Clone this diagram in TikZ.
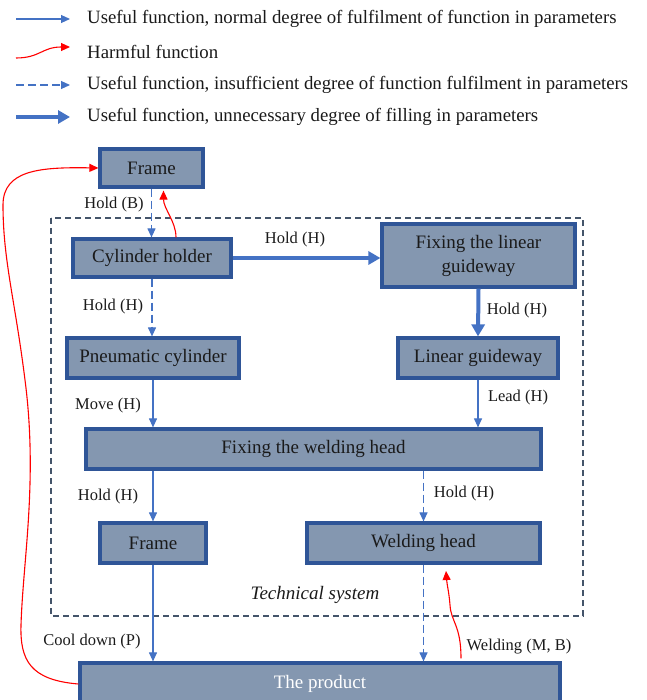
\documentclass[tikz,border=0pt]{standalone}
\usepackage{fontspec}
\setmainfont{Liberation Serif}
\usetikzlibrary{arrows.meta,calc}
\definecolor{boxfill}{HTML}{8497B0}
\definecolor{boxdraw}{HTML}{2F5597}
\definecolor{arr}{HTML}{4472C4}
\definecolor{tsline}{HTML}{44546A}
\definecolor{txt}{HTML}{1A1A1A}
\begin{document}
\begin{tikzpicture}[x=1pt,y=-1pt,
  fbox/.style={draw=boxdraw,fill=boxfill,line width=3.2pt,inner sep=0pt,text=txt,
    font=\fontsize{19}{24}\selectfont,align=center},
  lbl/.style={font=\fontsize{16.5}{18}\selectfont,text=txt,inner sep=1pt},
  legtxt/.style={font=\fontsize{18.8}{20}\selectfont,text=txt,anchor=west,inner sep=0pt},
  thinarr/.style={draw=arr,line width=1.1pt,-{Triangle[width=8pt,length=9pt]}},
  dasharr/.style={thinarr,dash pattern=on 8pt off 4pt},
  thickarr/.style={draw=arr,line width=4pt,-{Triangle[width=13pt,length=12pt]}},
  harm/.style={draw=red,line width=1.1pt,-{Triangle[width=8pt,length=9pt]}}]
\useasboundingbox (0,0) rectangle (646,700);
% legend
\coordinate (l1a) at (16,19); \coordinate (l1b) at (70,19);
\coordinate (l2a) at (16,58); \coordinate (l2b) at (70,47);
\coordinate (l3a) at (16,85); \coordinate (l3b) at (70,85);
\coordinate (l4a) at (16,117); \coordinate (l4b) at (70,117);
\draw[thinarr] (l1a) -- (l1b);
\draw[harm] (l2a) .. controls (40,58) and (42,47) .. (l2b);
\draw[dasharr] (l3a) -- (l3b);
\draw[thickarr] (l4a) -- (l4b);
\node[legtxt] (t1) at (87,19) {Useful function, normal degree of fulfilment of function in parameters};
\node[legtxt] (t2) at (87,52) {Harmful function};
\node[legtxt] (t3) at (87,85) {Useful function, insufficient degree of function fulfilment in parameters};
\node[legtxt] (t4) at (87,117) {Useful function, unnecessary degree of filling in parameters};
% technical system frame
\draw[tsline,line width=1.1pt,dash pattern=on 6pt off 4pt] (51,218) rectangle (583,616);
\node[font=\fontsize{19}{21}\selectfont\itshape,text=txt] (ts) at (315,595) {Technical system};
% boxes
\node[fbox,minimum width=103pt,minimum height=38pt] (fr1) at (151.5,168) {Frame};
\node[fbox,minimum width=158pt,minimum height=38pt] (cyl) at (152,258) {Cylinder holder};
\node[fbox,minimum width=193pt,minimum height=63pt] (flg) at (478.5,255.5) {Fixing the linear\\guideway};
\node[fbox,minimum width=172pt,minimum height=40pt] (pc) at (153,358) {Pneumatic cylinder};
\node[fbox,minimum width=160pt,minimum height=40pt] (lg) at (478,358) {Linear guideway};
\node[fbox,minimum width=455pt,minimum height=40pt] (fwh) at (313.5,449) {Fixing the welding head};
\node[fbox,minimum width=106pt,minimum height=40pt] (fr2) at (153,543) {Frame};
\node[fbox,minimum width=233pt,minimum height=40pt] (wh) at (423.5,543) {Welding head};
\node[fbox,minimum width=480pt,minimum height=42pt,text=white] (prod) at (320,684) {The product};
% connectors
\draw[dasharr] (fr1.south) -- (fr1.south |- cyl.north);
\draw[harm] ($(cyl.north)+(24,0)$) .. controls +(0,-16) and +(0,18) .. ($(fr1.south)+(12,2)$);
\draw[thickarr] (cyl.east) -- (cyl.east -| flg.west);
\draw[thickarr] (flg.south) -- (lg.north);
\draw[dasharr] (cyl.south) -- (cyl.south |- pc.north);
\draw[thinarr] (pc.south) -- (pc.south |- fwh.north);
\draw[thinarr] (lg.south) -- (lg.south |- fwh.north);
\draw[thinarr] (fr2.north |- fwh.south) -- (fr2.north);
\draw[dasharr] (wh.north |- fwh.south) -- (wh.north);
\draw[thinarr] (fr2.south) -- (fr2.south |- prod.north);
\draw[dasharr] (wh.south) -- (wh.south |- prod.north);
\coordinate (wtip) at (446,571);
\draw[harm] ($(prod.north)+(141,-3)$) .. controls (461,625) and (451,622) .. (450,605) .. controls (449,592) and (447,585) .. (wtip);
\draw[harm] (prod.west) .. controls (30,680) and (20,660) .. (21,625)
  .. controls (23,560) and (38,480) .. (25,380)
  .. controls (15,300) and (3,260) .. (3,205)
  .. controls (3,170) and (40,167) .. (fr1.west);
% labels
\node[lbl] (a1) at (114,205) {Hold (B)};
\node[lbl] (a2) at (295,240) {Hold (H)};
\node[lbl] (a3) at (113,307) {Hold (H)};
\node[lbl] (a4) at (517,311) {Hold (H)};
\node[lbl] (a5) at (108,406) {Move (H)};
\node[lbl] (a6) at (518,398) {Lead (H)};
\node[lbl] (a7) at (108,497) {Hold (H)};
\node[lbl] (a8) at (464,494) {Hold (H)};
\node[lbl] (a9) at (92,642) {Cool down (P)};
\node[lbl] (a10) at (519,647) {Welding (M, B)};
\end{tikzpicture}
\end{document}
